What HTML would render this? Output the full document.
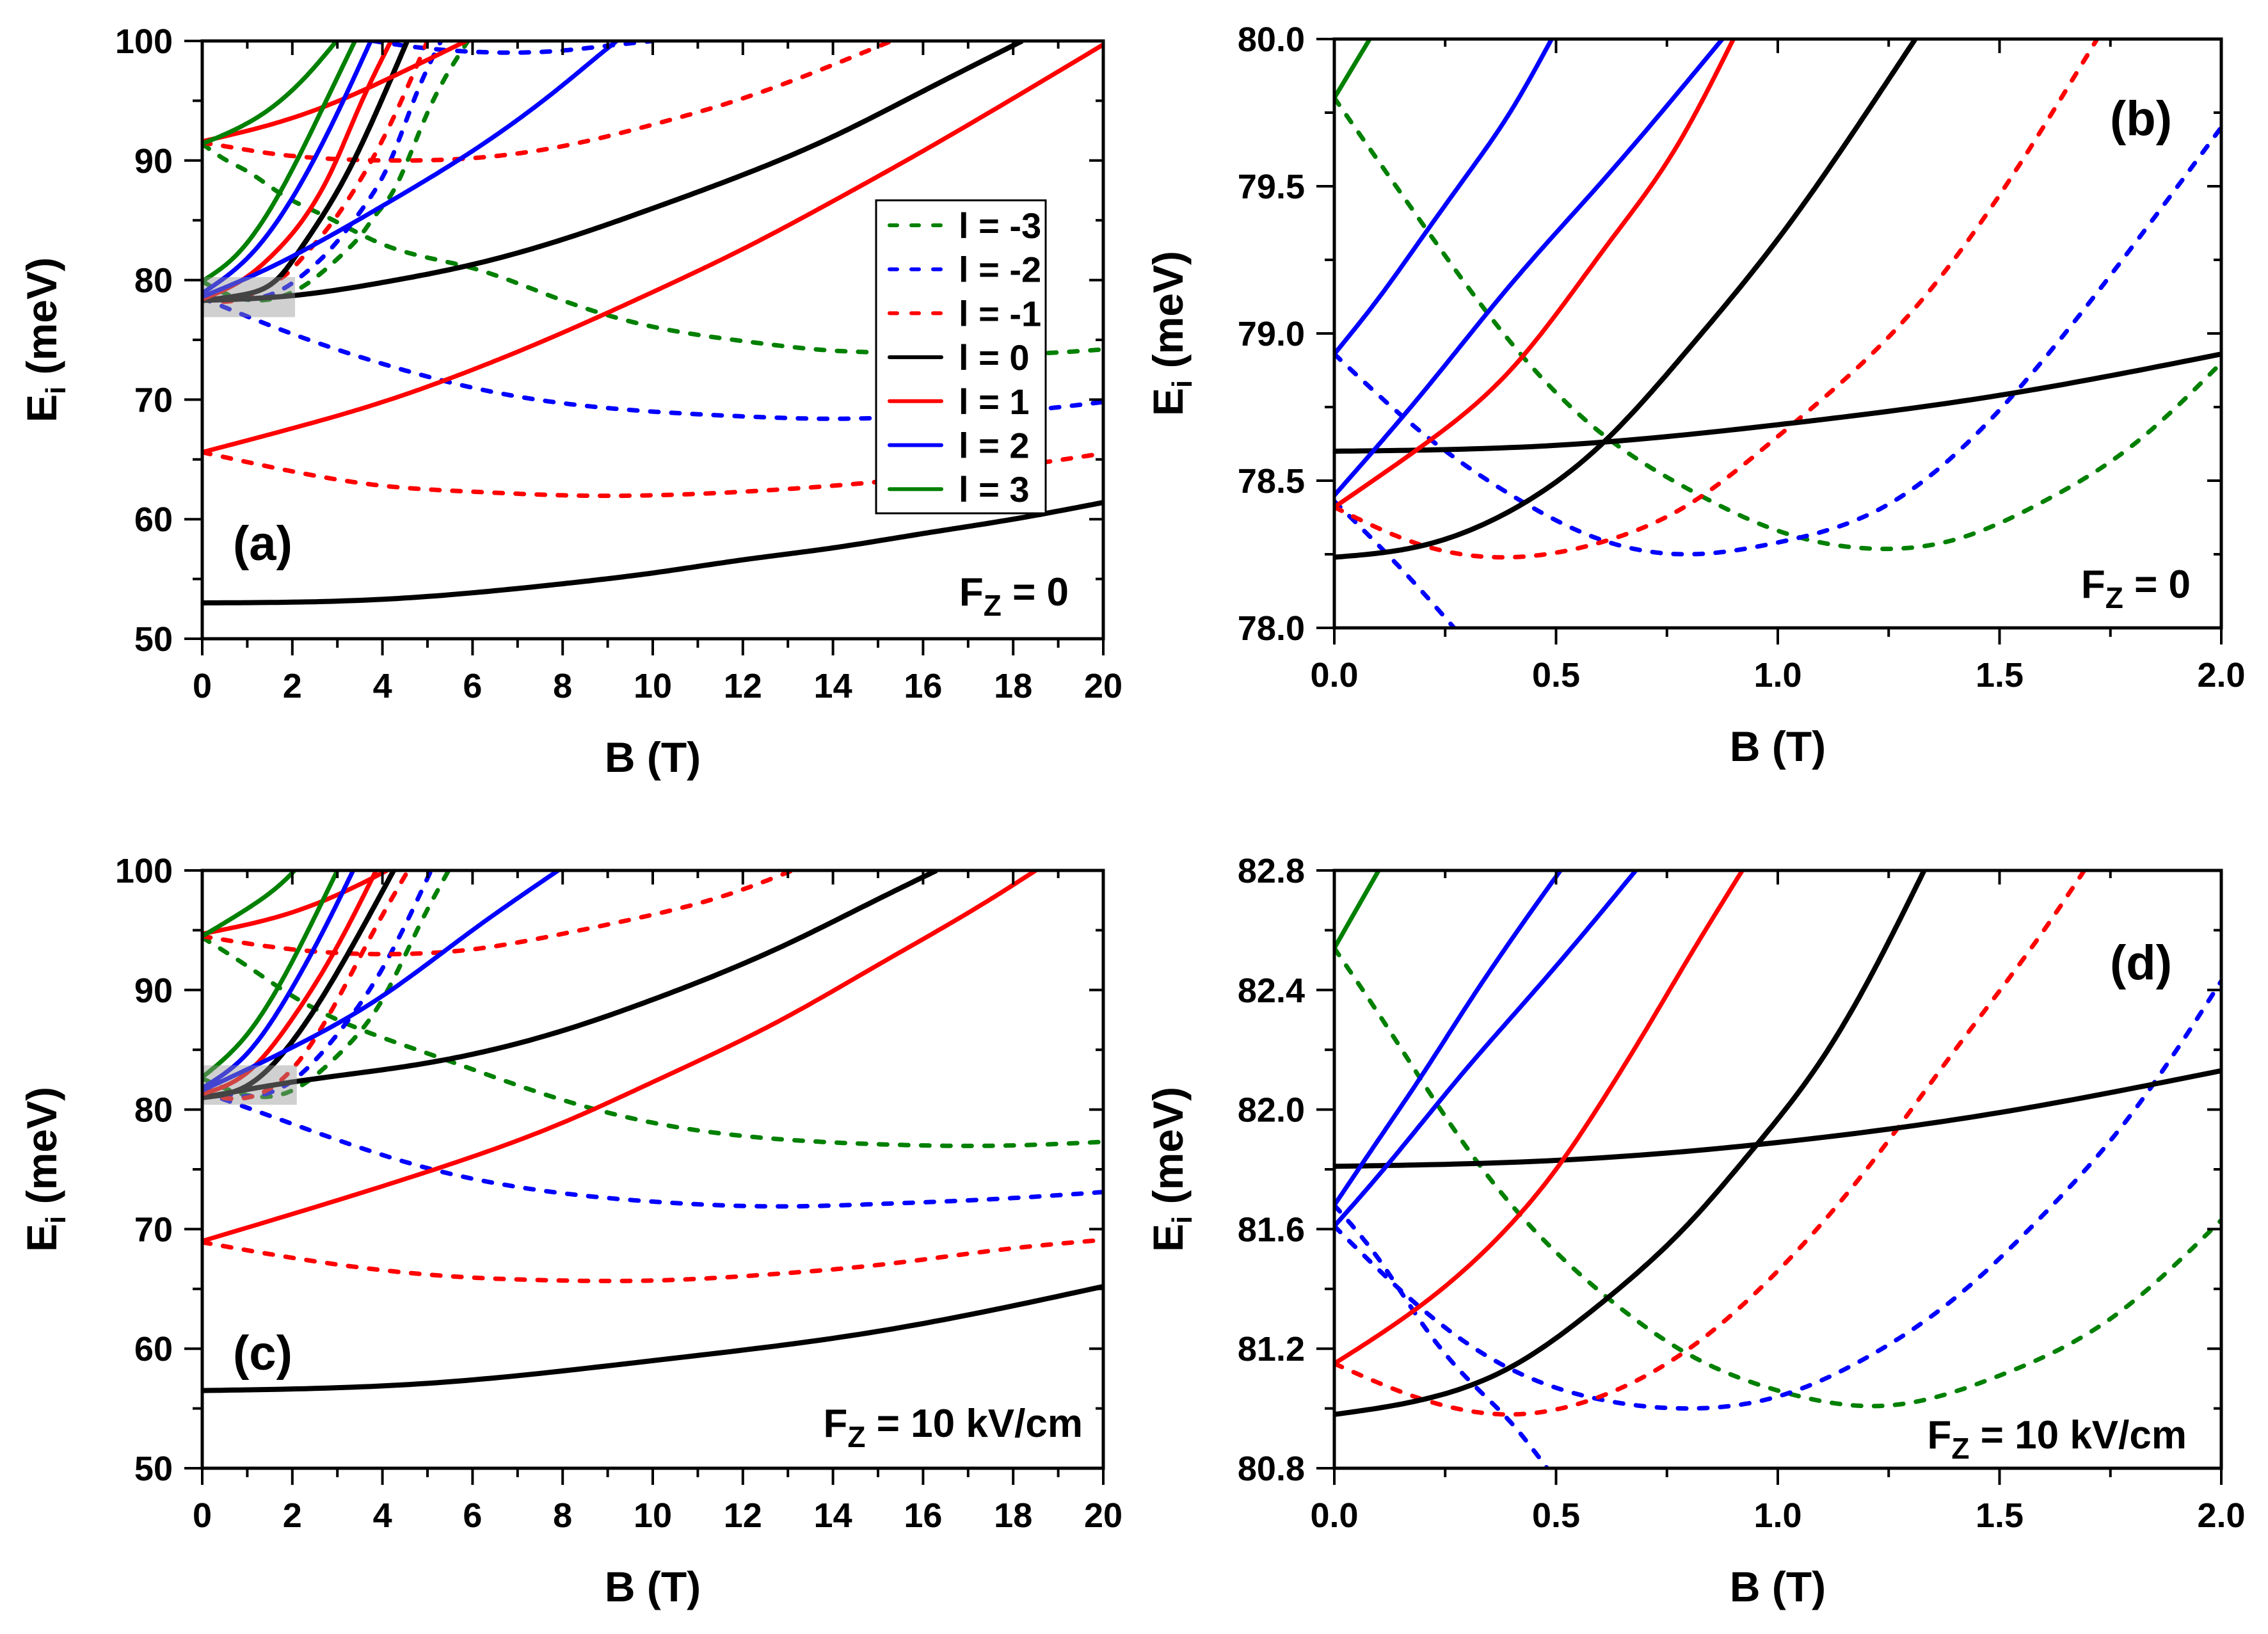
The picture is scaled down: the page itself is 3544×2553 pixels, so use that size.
<!DOCTYPE html>
<html><head><meta charset="utf-8">
<style>
html,body{margin:0;padding:0;background:#fff;}
svg{display:block;}
text{font-family:"Liberation Sans",Arial,sans-serif;font-weight:bold;fill:#000;}
</style></head>
<body>
<svg id="fig" xmlns="http://www.w3.org/2000/svg" width="3544" height="2553" viewBox="0 0 3544 2553">
<rect x="0" y="0" width="3544" height="2553" fill="#fff"/>
</svg>
<script>
// ---------- DATA: panel (a), Fz = 0, B 0-20 T ----------
const a_l0_1 = [[0,53],[4,53.3],[8,54.6],[10,55.5],[12,56.6],[14,57.6],[16,58.8],[18,60],[20,61.4]];
const a_l0_2 = [[0,78.3],[2,78.7],[4,79.8],[6,81.3],[8,83.4],[10,86],[12,88.8],[14,92],[16,95.8],[18.2,100]];
const a_l0_3 = [[0,78.3],[0.95,78.8],[1.75,80.4],[2.09,82.1],[3.27,89.3],[3.93,94.6],[4.55,100]];
const a_l1_1 = [[0,65.6],[2,67.6],[4,69.8],[6,72.5],[8,75.6],[10,79],[12,82.6],[14,86.6],[16,90.8],[18,95.2],[20,99.7]];
const a_l1_2 = [[0,91.6],[1.42,92.9],[2.84,94.7],[4.27,97.1],[5.86,100]];
const a_l1_3 = [[0,78.4],[1.04,80.4],[1.56,82.1],[2.89,89.3],[3.5,94.6],[4.19,100]];
const a_l2_1 = [[0,78.6],[1.42,80.9],[2.84,83.7],[4.27,86.8],[6,90.8],[8,96.3],[9,99.4],[9.2,100]];
const a_l2_2 = [[0,78.9],[1.07,82.1],[2.37,89.3],[3.08,94.6],[3.74,100]];
const a_l3_1 = [[0,91.4],[1.42,94.1],[2.37,97.3],[2.98,100]];
const a_l3_2 = [[0,79.9],[0.76,82.1],[1.75,87.5],[2.7,94.6],[3.39,100]];
const a_lm1_1 = [[0,65.6],[2,64],[4,62.8],[6,62.3],[8,62],[10,62],[12,62.3],[14,62.8],[16,63.5],[18,64.4],[20,65.5]];
const a_lm1_2 = [[0,91.5],[0.5,91.2],[1.5,90.6],[2.6,90.2],[4.2,90],[6,90.2],[8,91.2],[10,93],[12,95.2],[14,98],[15.3,100]];
const a_lm1_3 = [[0,78.4],[0.5,78.2],[1,78.6],[1.47,79.5],[1.9,80.6],[2.23,81.9],[2.84,84.6],[3.4,87.7],[4.08,92.3],[5,100]];
const a_lm2_1 = [[0,78.5],[2,75.5],[4,73],[6,71],[8,69.7],[10,69],[12,68.6],[14,68.4],[16,68.6],[18,69],[20,69.8]];
const a_lm2_2 = [[0,78.9],[1,78.4],[1.94,79.6],[2.32,80.7],[2.7,82],[2.99,83.2],[3.6,86.2],[4.12,89.5],[4.8,96],[5.3,100]];
const a_lm2_3 = [[3.8,100],[4.5,99.6],[6,99.1],[8,99.2],[9,99.6],[10,100]];
const a_lm3_1 = [[0,91.4],[0.5,90.1],[1,89.1],[1.75,87.2],[2.7,85.4],[4,83],[6,81],[8,78.3],[10,76.1],[12,74.9],[14,74.1],[16,73.9],[18,73.8],[20,74.2]];
const a_lm3_2 = [[0,79.9],[0.5,78.9],[1.52,78.4],[2.37,79.8],[2.8,81.1],[3.18,82.4],[3.53,83.8],[3.84,85.4],[4.17,87],[5,94],[5.9,100]];

// ---------- DATA: panel (b), Fz = 0, B 0-2 T ----------
const b_l0_1 = [[0,78.6],[0.5,78.62],[1,78.69],[1.5,78.79],[2,78.93]];
const b_l0_2 = [[0,78.24],[0.2,78.28],[0.4,78.4],[0.6,78.62],[0.8,78.95],[1.0,79.32],[1.2,79.75],[1.31,80]];
const b_l1_1 = [[0,78.41],[0.2,78.62],[0.4,78.88],[0.62,79.31],[0.77,79.63],[0.9,80]];
const b_l2_1 = [[0,78.45],[0.2,78.8],[0.4,79.17],[0.6,79.51],[0.875,80]];
const b_l2_2 = [[0,78.93],[0.1,79.12],[0.2,79.33],[0.3,79.54],[0.4,79.76],[0.49,80]];
const b_l3_1 = [[0,79.8],[0.08,80]];
const b_lm1_1 = [[0,78.41],[0.2,78.28],[0.4,78.24],[0.6,78.29],[0.8,78.42],[1.0,78.65],[1.3,79.07],[1.5,79.47],[1.72,80]];
const b_lm2_1 = [[0,78.93],[0.2,78.66],[0.4,78.45],[0.6,78.3],[0.8,78.25],[1.0,78.29],[1.25,78.42],[1.5,78.74],[1.7,79.1],[2.0,79.7]];
const b_lm2_2 = [[0,78.43],[0.1,78.28],[0.2,78.12],[0.27,78.0]];
const b_lm3_1 = [[0,79.8],[0.2,79.37],[0.42,78.93],[0.62,78.64],[0.8,78.47],[1.0,78.33],[1.2,78.27],[1.4,78.3],[1.6,78.43],[1.8,78.62],[2.0,78.9]];

// ---------- DATA: panel (c), Fz = 10 kV/cm, B 0-20 T ----------
const c_l0_1 = [[0,56.5],[5,57.1],[10,59],[15,61.45],[20,65.2]];
const c_l0_2 = [[0,81],[2,82.3],[5,83.9],[8,86.6],[10,89.2],[12.9,93.7],[15,97.6],[16.3,100]];
const c_l0_3 = [[0,81],[1,82],[2,85.7],[3.2,92.8],[4.25,100]];
const c_l1_1 = [[0,69],[5,74.8],[8,78.9],[10,82.3],[12.9,87.6],[15,92.1],[17.5,97.6],[18.5,100]];
const c_l1_2 = [[0,94.7],[2,96.5],[4,99.8],[4.1,100]];
const c_l1_3 = [[0,81.3],[1,83.1],[2,87.6],[2.96,93.4],[3.86,100]];
const c_l2_1 = [[0,81.6],[2,85.2],[4,89.5],[6,95],[7.9,100]];
const c_l2_2 = [[0,81.8],[1,84.7],[2,90.2],[2.83,96],[3.35,100]];
const c_l3_1 = [[0,94.5],[1,96.8],[2,99.8],[2.05,100]];
const c_l3_2 = [[0,82.7],[1,86.3],[2,92.4],[2.6,96.9],[3.0,100]];
const c_lm1_1 = [[0,68.9],[2,67.6],[5,66.2],[8,65.7],[10,65.7],[12.9,66.3],[15,67],[18,68.4],[20,69.1]];
const c_lm1_2 = [[0,94.5],[2,93.4],[4,93],[6,93.4],[8,94.7],[10,96.3],[11.6,97.9],[12.9,99.7],[13.1,100]];
const c_lm1_3 = [[0,81.3],[1,81],[2,83.4],[2.96,88.9],[3.86,95.3],[4.57,100]];
const c_lm2_1 = [[0,81.5],[2,78.8],[5,75.1],[8,73],[10,72.3],[12.9,71.9],[15,72.1],[18,72.6],[20,73.1]];
const c_lm2_2 = [[0,81.8],[1,81.1],[2,82.4],[3,86.3],[4,91.8],[5.08,100]];
const c_lm3_1 = [[0,94.4],[1,92],[2,89.5],[5,84.7],[8,80.8],[10,78.9],[12.9,77.5],[15,77.1],[18,77],[20,77.3]];
const c_lm3_2 = [[0,82.6],[1,81.2],[2,81.6],[3,84.5],[4,89.2],[4.9,96],[5.47,100]];

// ---------- DATA: panel (d), Fz = 10 kV/cm, B 0-2 T ----------
const d_l0_1 = [[0,81.81],[0.5,81.83],[1,81.89],[1.5,81.99],[2,82.13]];
const d_l0_2 = [[0,80.98],[0.2,81.03],[0.4,81.14],[0.6,81.35],[0.8,81.62],[0.94,81.86],[1.1,82.17],[1.2,82.42],[1.33,82.8]];
const d_l1_1 = [[0,81.15],[0.2,81.35],[0.4,81.62],[0.5,81.8],[0.6,82.02],[0.7,82.26],[0.8,82.51],[0.92,82.8]];
const d_l2_1 = [[0,81.61],[0.1,81.78],[0.2,81.96],[0.3,82.14],[0.4,82.31],[0.5,82.48],[0.68,82.8]];
const d_l2_2 = [[0,81.68],[0.1,81.9],[0.2,82.12],[0.3,82.35],[0.4,82.57],[0.51,82.8]];
const d_l3_1 = [[0,82.54],[0.1,82.8]];
const d_lm1_1 = [[0,81.15],[0.2,81.03],[0.4,80.98],[0.6,81.04],[0.8,81.2],[1.0,81.46],[1.2,81.8],[1.4,82.2],[1.6,82.6],[1.7,82.82]];
const d_lm2_1 = [[0,81.61],[0.2,81.33],[0.4,81.13],[0.6,81.03],[0.8,81.0],[1.0,81.04],[1.2,81.17],[1.4,81.37],[1.6,81.65],[1.8,81.99],[2.0,82.43]];
const d_lm2_2 = [[0,81.68],[0.1,81.5],[0.2,81.28],[0.3,81.1],[0.4,80.95],[0.48,80.8]];
const d_lm3_1 = [[0,82.54],[0.1,82.32],[0.2,82.09],[0.3,81.87],[0.4,81.68],[0.6,81.39],[0.8,81.18],[1.0,81.06],[1.25,81.01],[1.5,81.11],[1.75,81.3],[2.0,81.63]];

// tick label arrays
const ticksBig = [0,2,4,6,8,10,12,14,16,18,20];
const ticksSmall = ["0.0","0.5","1.0","1.5","2.0"];
const yTicksA = [50,60,70,80,90,100];
const yTicksB = ["78.0","78.5","79.0","79.5","80.0"];
const yTicksD = ["80.8","81.2","81.6","82.0","82.4","82.8"];
const legendLabels = ["l = -3","l = -2","l = -1","l = 0","l = 1","l = 2","l = 3"];

const COL = {"-3":"#008000","-2":"#0000ff","-1":"#ff0000","0":"#000000","1":"#ff0000","2":"#0000ff","3":"#008000"};
const NS = "http://www.w3.org/2000/svg";
const fig = document.getElementById('fig');

function mk(tag, attrs, parent){
  const e = document.createElementNS(NS, tag);
  for (const k in attrs) e.setAttribute(k, attrs[k]);
  (parent||fig).appendChild(e);
  return e;
}

function makePanel(id, px0, px1, py0, py1, xmin, xmax, ymin, ymax){
  const g = mk('g', {});
  
  
  const cid = 'clip-' + id;
  const cp = mk('clipPath', {id: cid}, g);
  mk('rect', {x: px0, y: py0, width: px1 - px0, height: py1 - py0}, cp);
  const sx = v => px0 + (v - xmin) / (xmax - xmin) * (px1 - px0);
  const sy = v => py1 - (v - ymin) / (ymax - ymin) * (py1 - py0);
  const plot = mk('g', {'clip-path': 'url(#' + cid + ')'}, g);
  return {g, plot, sx, sy, px0, px1, py0, py1, xmin, xmax, ymin, ymax};
}

// natural cubic spline in B, sampled densely
function spline(pts){
  const n = pts.length;
  const x = pts.map(p => p[0]), y = pts.map(p => p[1]);
  if (n < 3) return pts;
  const h = [], al = [], l = [1], mu = [0], z = [0], c = new Array(n).fill(0), b = [], d = [];
  for (let i = 0; i < n - 1; i++) h[i] = x[i+1] - x[i];
  for (let i = 1; i < n - 1; i++) al[i] = 3/h[i]*(y[i+1]-y[i]) - 3/h[i-1]*(y[i]-y[i-1]);
  for (let i = 1; i < n - 1; i++){
    l[i] = 2*(x[i+1]-x[i-1]) - h[i-1]*mu[i-1];
    mu[i] = h[i]/l[i];
    z[i] = (al[i] - h[i-1]*z[i-1])/l[i];
  }
  for (let j = n - 2; j >= 0; j--){
    c[j] = (j === 0 ? 0 : z[j]) - (j === 0 ? 0 : mu[j]*c[j+1]);
    b[j] = (y[j+1]-y[j])/h[j] - h[j]*(c[j+1]+2*c[j])/3;
    d[j] = (c[j+1]-c[j])/(3*h[j]);
  }
  const out = [];
  for (let i = 0; i < n - 1; i++){
    const steps = 24;
    for (let k = 0; k < steps; k++){
      const t = h[i]*k/steps;
      out.push([x[i]+t, y[i] + b[i]*t + c[i]*t*t + d[i]*t*t*t]);
    }
  }
  out.push(pts[n-1]);
  return out;
}

function pathFrom(P, pts){
  const s = spline(pts);
  return s.map((d, i) => (i ? 'L' : 'M') + P.sx(d[0]).toFixed(1) + ',' + P.sy(d[1]).toFixed(1)).join('');
}

function curve(P, pts, l, name){
  const dashed = l < 0;
  const e = mk('path', {d: pathFrom(P, pts), fill: 'none', stroke: COL[String(l)],
    'stroke-width': l === 0 ? 8 : 7, 'stroke-linecap': dashed ? 'round' : 'butt', 'stroke-linejoin': 'round',
    'stroke-dasharray': dashed ? '13 20' : 'none'}, P.plot);
  
  
}

function axes(P, xLabels, xVals, xMinor, yLabels, yVals, yMinor, yTitleX){
  const g = P.g;
  const fr = mk('rect', {x: P.px0, y: P.py0, width: P.px1 - P.px0, height: P.py1 - P.py0, fill: 'none', stroke: '#000', 'stroke-width': 5}, g);
  
  
  xMinor.forEach(v => {
    const x = P.sx(v);
    mk('line', {x1: x, x2: x, y1: P.py1, y2: P.py1 + 14, stroke: '#000', 'stroke-width': 4}, g);
    mk('line', {x1: x, x2: x, y1: P.py0, y2: P.py0 + 12, stroke: '#000', 'stroke-width': 4}, g);
  });
  xVals.forEach((v, i) => {
    const x = P.sx(v);
    mk('line', {x1: x, x2: x, y1: P.py1, y2: P.py1 + 26, stroke: '#000', 'stroke-width': 4}, g);
    mk('line', {x1: x, x2: x, y1: P.py0, y2: P.py0 + 22, stroke: '#000', 'stroke-width': 4}, g);
    const t = mk('text', {x: x, y: P.py1 + 92, 'font-size': 54, 'text-anchor': 'middle'}, g);
    t.textContent = xLabels[i];
    
    
  });
  yMinor.forEach(v => {
    const y = P.sy(v);
    mk('line', {x1: P.px0 - 15, x2: P.px0, y1: y, y2: y, stroke: '#000', 'stroke-width': 4}, g);
    mk('line', {x1: P.px1 - 12, x2: P.px1, y1: y, y2: y, stroke: '#000', 'stroke-width': 4}, g);
  });
  yVals.forEach((v, i) => {
    const y = P.sy(v);
    mk('line', {x1: P.px0 - 28, x2: P.px0, y1: y, y2: y, stroke: '#000', 'stroke-width': 4}, g);
    mk('line', {x1: P.px1 - 22, x2: P.px1, y1: y, y2: y, stroke: '#000', 'stroke-width': 4}, g);
    const t = mk('text', {x: P.px0 - 46, y: y + 19, 'font-size': 54, 'text-anchor': 'end'}, g);
    t.textContent = yLabels[i];
    
    
  });
  const xt = mk('text', {x: (P.px0 + P.px1) / 2, y: P.py1 + 208, 'font-size': 66, 'text-anchor': 'middle'}, g);
  xt.textContent = 'B (T)';
  
  
  const cy = (P.py0 + P.py1) / 2;
  const yt = mk('text', {x: yTitleX, y: cy, 'font-size': 66, 'text-anchor': 'middle', transform: 'rotate(-90 ' + yTitleX + ' ' + cy + ')'}, g);
  yt.innerHTML = 'E<tspan font-size="44" dy="14">i</tspan><tspan dy="-14"> (meV)</tspan>';
  
  
}

function label(P, txt, x, y, name){
  const t = mk('text', {x: x, y: y, 'font-size': 76}, P.g);
  t.textContent = txt;
  
  
}
function fieldLabel(P, val, xr, y, name){
  const t = mk('text', {x: xr, y: y, 'font-size': 62, 'text-anchor': 'end'}, P.g);
  t.innerHTML = 'F<tspan font-size="46" dy="16">Z</tspan><tspan dy="-16"> = ' + val + '</tspan>';
  
  
}
function grayBox(P, x0, x1, y0, y1){
  const r = mk('rect', {x: P.sx(x0), y: P.sy(y1), width: P.sx(x1) - P.sx(x0), height: P.sy(y0) - P.sy(y1), fill: 'rgba(150,150,150,0.45)'}, P.g);
  
  
}

const bigMinor = [1,3,5,7,9,11,13,15,17,19];
const bigVals = ticksBig;
const smallVals = [0,0.5,1,1.5,2];
const smallMinor = [0.25,0.75,1.25,1.75];

// ----- Panel (a)
const A = makePanel('a', 316, 1724, 64, 998, 0, 20, 50, 100);
[[a_lm3_1,-3],[a_lm3_2,-3],[a_lm2_1,-2],[a_lm2_2,-2],[a_lm2_3,-2],[a_lm1_1,-1],[a_lm1_2,-1],[a_lm1_3,-1],
 [a_l0_1,0],[a_l0_2,0],[a_l0_3,0],[a_l1_1,1],[a_l1_2,1],[a_l1_3,1],[a_l2_1,2],[a_l2_2,2],[a_l3_1,3],[a_l3_2,3]]
 .forEach((s, i) => curve(A, s[0], s[1], 'curve-a-l' + s[1] + '-' + i));
grayBox(A, 0, 2.06, 76.9, 80.25);
axes(A, ticksBig.map(String), bigVals, bigMinor, yTicksA.map(String), yTicksA, [55,65,75,85,95], 88);
label(A, '(a)', 364, 875, 'panel-label-a');
fieldLabel(A, '0', 1670, 946, 'field-label-a');

// legend
const lg = mk('g', {});


mk('rect', {x: 1369, y: 313, width: 265, height: 489, fill: '#fff', stroke: '#000', 'stroke-width': 3}, lg);
const legL = [-3,-2,-1,0,1,2,3];
legL.forEach((l, i) => {
  const y = 352 + i * 68.7;
  const ln = mk('line', {x1: 1390, x2: 1471, y1: y, y2: y, stroke: COL[String(l)], 'stroke-width': 6,
    'stroke-linecap': 'round', 'stroke-dasharray': l < 0 ? '12 22' : 'none'}, lg);
  
  
  const t = mk('text', {x: 1498, y: y + 20, 'font-size': 56}, lg);
  t.textContent = legendLabels[i];
  
  
});

// ----- Panel (b)
const Bp = makePanel('b', 2085, 3471, 61, 981, 0, 2, 78, 80);
[[b_lm3_1,-3],[b_lm2_1,-2],[b_lm2_2,-2],[b_lm1_1,-1],[b_l0_1,0],[b_l0_2,0],[b_l1_1,1],[b_l2_1,2],[b_l2_2,2],[b_l3_1,3]]
 .forEach((s, i) => curve(Bp, s[0], s[1], 'curve-b-l' + s[1] + '-' + i));
axes(Bp, ticksSmall, smallVals, smallMinor, yTicksB, [78,78.5,79,79.5,80], [78.25,78.75,79.25,79.75], 1848);
label(Bp, '(b)', 3297, 211, 'panel-label-b');
fieldLabel(Bp, '0', 3423, 934, 'field-label-b');

// ----- Panel (c)
const C = makePanel('c', 316, 1724, 1360, 2294, 0, 20, 50, 100);
[[c_lm3_1,-3],[c_lm3_2,-3],[c_lm2_1,-2],[c_lm2_2,-2],[c_lm1_1,-1],[c_lm1_2,-1],[c_lm1_3,-1],
 [c_l0_1,0],[c_l0_2,0],[c_l0_3,0],[c_l1_1,1],[c_l1_2,1],[c_l1_3,1],[c_l2_1,2],[c_l2_2,2],[c_l3_1,3],[c_l3_2,3]]
 .forEach((s, i) => curve(C, s[0], s[1], 'curve-c-l' + s[1] + '-' + i));
grayBox(C, 0, 2.1, 80.4, 83.7);
axes(C, ticksBig.map(String), bigVals, bigMinor, yTicksA.map(String), yTicksA, [55,65,75,85,95], 88);
label(C, '(c)', 364, 2140, 'panel-label-c');
fieldLabel(C, '10 kV/cm', 1692, 2245, 'field-label-c');

// ----- Panel (d)
const D = makePanel('d', 2085, 3471, 1360, 2294, 0, 2, 80.8, 82.8);
[[d_lm3_1,-3],[d_lm2_1,-2],[d_lm2_2,-2],[d_lm1_1,-1],[d_l0_1,0],[d_l0_2,0],[d_l1_1,1],[d_l2_1,2],[d_l2_2,2],[d_l3_1,3]]
 .forEach((s, i) => curve(D, s[0], s[1], 'curve-d-l' + s[1] + '-' + i));
axes(D, ticksSmall, smallVals, smallMinor, yTicksD, [80.8,81.2,81.6,82.0,82.4,82.8], [81.0,81.4,81.8,82.2,82.6], 1848);
label(D, '(d)', 3297, 1530, 'panel-label-d');
fieldLabel(D, '10 kV/cm', 3417, 2263, 'field-label-d');
</script>
</body></html>
